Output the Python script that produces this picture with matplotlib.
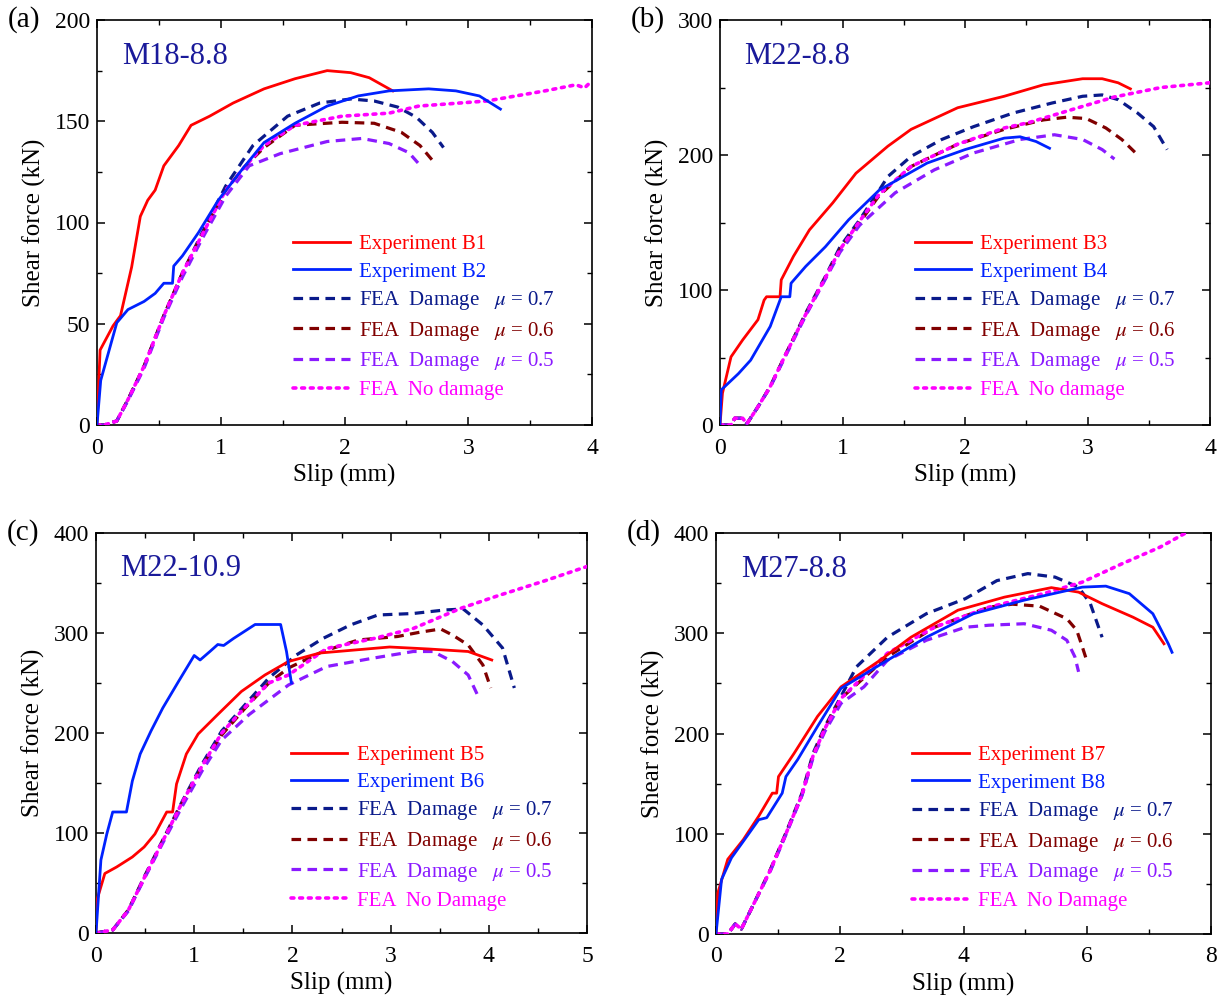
import matplotlib.pyplot as plt
from matplotlib.ticker import MultipleLocator

plt.rcParams["font.family"] = ["Liberation Serif", "DejaVu Serif"]
plt.rcParams["mathtext.fontset"] = "stix"

RED = "#ff0000"
BLUE = "#0022ff"
NAVY = "#0a1a8a"
MAROON = "#800000"
PURPLE = "#8a1aff"
MAGENTA = "#ff00ff"

# ---------------- (a) M18-8.8 ----------------
a_b1_x = [0, 0.025, 0.13, 0.19, 0.22, 0.28, 0.35, 0.41, 0.47, 0.54, 0.66, 0.76, 0.91, 1.1, 1.35, 1.6, 1.86, 2.05, 2.2, 2.39]
a_b1_y = [0, 37, 49, 54, 62, 78, 103, 111, 116, 128, 138, 148, 152.5, 159, 166, 171, 175, 174, 171.5, 165]
a_b2_x = [0, 0.03, 0.16, 0.25, 0.38, 0.47, 0.54, 0.61, 0.62, 0.69, 0.82, 0.98, 1.17, 1.35, 1.6, 1.86, 2.11, 2.36, 2.68, 2.9, 3.09, 3.26]
a_b2_y = [0, 22, 50.5, 57, 61, 65, 70, 70, 78.5, 83.5, 95, 111, 126, 139.5, 149, 157.5, 162.5, 165, 166, 165, 162.5, 156]
a_d7_x = [0, 0.06, 0.16, 0.25, 0.38, 0.54, 0.69, 0.85, 1.04, 1.26, 1.54, 1.8, 2.05, 2.24, 2.43, 2.58, 2.71, 2.8]
a_d7_y = [0, 0, 2, 12.5, 29, 54, 75, 95, 118, 138, 152.5, 159, 161, 160, 157, 152, 144.5, 137]
a_d6_x = [0, 0.06, 0.16, 0.25, 0.38, 0.54, 0.69, 0.85, 1.04, 1.2, 1.35, 1.6, 1.98, 2.24, 2.46, 2.61, 2.72]
a_d6_y = [0, 0, 2, 12.5, 29, 54, 75, 94, 116, 128, 137, 148, 149.5, 149, 144.5, 138, 130]
a_d5_x = [0, 0.06, 0.16, 0.25, 0.38, 0.54, 0.69, 0.85, 1.04, 1.23, 1.48, 1.86, 2.14, 2.36, 2.52, 2.6]
a_d5_y = [0, 0, 2, 12, 28, 53, 73, 92, 113, 128, 134, 140, 141.5, 139, 134.5, 129]
a_nd_x = [0, 0.06, 0.16, 0.25, 0.38, 0.54, 0.69, 0.85, 1.04, 1.2, 1.35, 1.6, 1.98, 2.36, 2.6, 3.15, 3.62, 3.87, 3.94, 4.0]
a_nd_y = [0, 0, 2, 12.5, 29, 54, 75, 94, 116, 128, 138, 148, 152.5, 154, 157.5, 160, 165, 168, 166.5, 170]

# ---------------- (b) M22-8.8 ----------------
b_b3_x = [0, 0.02, 0.09, 0.185, 0.31, 0.36, 0.38, 0.49, 0.5, 0.6, 0.73, 0.92, 1.11, 1.37, 1.56, 1.94, 2.32, 2.64, 2.96, 3.12, 3.25, 3.35]
b_b3_y = [0, 23.5, 50.5, 63, 78, 92.5, 95, 95, 107.5, 125, 144.5, 164.5, 186.5, 206.5, 219, 235, 243.5, 252, 256.5, 256.5, 253.5, 249]
b_b4_x = [0, 0.01, 0.15, 0.25, 0.41, 0.5, 0.57, 0.58, 0.7, 0.86, 1.05, 1.3, 1.69, 2.0, 2.32, 2.45, 2.58, 2.69]
b_b4_y = [0, 26, 38, 48, 73, 95, 95, 105, 117.5, 132, 152, 174, 194, 204, 212.5, 213.5, 210, 205]
b_d7_x = [0, 0.09, 0.12, 0.185, 0.22, 0.31, 0.41, 0.54, 0.7, 0.86, 0.98, 1.14, 1.3, 1.37, 1.56, 1.81, 2.07, 2.39, 2.71, 2.96, 3.12, 3.25, 3.41, 3.54, 3.65]
b_d7_y = [0, 0, 5, 5, 1, 13.5, 28.5, 53, 83, 110, 132, 152, 174, 184, 199, 211.5, 221, 231, 238.5, 243.5, 244.5, 241, 231, 221, 204]
b_d6_x = [0, 0.09, 0.12, 0.185, 0.22, 0.31, 0.41, 0.54, 0.7, 0.86, 0.98, 1.14, 1.3, 1.56, 1.94, 2.32, 2.64, 2.83, 2.99, 3.15, 3.28, 3.41]
b_d6_y = [0, 0, 5, 5, 1, 13.5, 28.5, 53, 82, 109, 130, 150, 170, 191.5, 208, 219, 226, 228, 227, 220, 211.5, 200]
b_d5_x = [0, 0.09, 0.12, 0.185, 0.22, 0.31, 0.41, 0.54, 0.7, 0.86, 0.98, 1.14, 1.43, 1.75, 2.07, 2.45, 2.73, 2.96, 3.12, 3.22]
b_d5_y = [0, 0, 5, 5, 1, 13.5, 28, 52, 81, 108, 128, 148, 172, 189, 201.5, 211.5, 215, 211.5, 204, 197]
b_nd_x = [0, 0.09, 0.12, 0.185, 0.22, 0.31, 0.41, 0.54, 0.7, 0.86, 0.98, 1.14, 1.3, 1.56, 1.94, 2.32, 2.52, 2.96, 3.22, 3.6, 4.0]
b_nd_y = [0, 0, 5, 5, 1, 13.5, 28.5, 53, 82, 109, 130, 151, 171, 191.5, 208, 220, 224, 236, 243, 250, 253.5]

# ---------------- (c) M22-10.9 ----------------
c_b5_x = [0, 0.01, 0.09, 0.21, 0.37, 0.49, 0.6, 0.72, 0.78, 0.82, 0.92, 1.04, 1.24, 1.48, 1.72, 1.96, 2.28, 2.99, 3.39, 3.79, 4.03]
c_b5_y = [0, 33, 59.5, 66, 76, 86, 99, 121, 121, 149, 179, 199, 218.5, 241.5, 258, 271.5, 280, 286, 284, 281.5, 273]
c_b6_x = [0, 0.05, 0.11, 0.17, 0.31, 0.37, 0.45, 0.56, 0.68, 0.84, 1.0, 1.06, 1.16, 1.24, 1.3, 1.4, 1.62, 1.88, 1.94, 1.99]
c_b6_y = [0, 73, 99, 121, 121, 152, 179, 202, 225, 251.5, 277.5, 273, 281.5, 288.5, 287.5, 294.5, 308.5, 308.5, 281.5, 250]
c_d7_x = [0, 0.17, 0.33, 0.49, 0.68, 0.88, 1.08, 1.28, 1.52, 1.76, 2.04, 2.31, 2.59, 2.87, 3.23, 3.55, 3.74, 3.94, 4.14, 4.26]
c_d7_y = [0, 3, 23, 56, 93, 132, 169, 202, 228.5, 255, 278, 294.5, 308, 318, 319.5, 323, 324, 308, 285, 245]
c_d6_x = [0, 0.17, 0.33, 0.49, 0.68, 0.88, 1.08, 1.28, 1.52, 1.76, 1.96, 2.31, 2.67, 3.07, 3.31, 3.51, 3.63, 3.79, 3.94, 4.02]
c_d6_y = [0, 3, 23, 55, 92, 130, 166, 198, 225, 250, 265, 281.5, 293, 296.5, 301, 304, 298, 288, 268, 245]
c_d5_x = [0, 0.17, 0.33, 0.49, 0.68, 0.88, 1.08, 1.28, 1.56, 1.96, 2.35, 2.83, 3.23, 3.43, 3.63, 3.79, 3.89]
c_d5_y = [0, 3, 22, 54, 90, 127, 162, 193, 218.5, 248, 266.5, 275, 281.5, 281.5, 271.5, 258, 237]
c_nd_x = [0, 0.17, 0.33, 0.49, 0.68, 0.88, 1.08, 1.28, 1.52, 1.76, 1.96, 2.35, 2.83, 3.23, 3.71, 4.1, 4.58, 5.0]
c_nd_y = [0, 3, 23, 55, 92, 131, 167, 200, 226, 250, 258, 284.5, 294.5, 304.5, 324.5, 337.5, 352.5, 366.5]

# ---------------- (d) M27-8.8 ----------------
d_b7_x = [0, 0.03, 0.19, 0.44, 0.69, 0.91, 0.98, 1.01, 1.26, 1.64, 2.02, 2.65, 3.15, 3.91, 4.66, 5.42, 5.86, 6.24, 6.74, 7.06, 7.24]
d_b7_y = [0, 41, 74.5, 94, 117.5, 140.5, 140.5, 157, 180, 217, 246.5, 273, 296, 323, 336, 345.5, 341, 329.5, 316, 306, 289.5]
d_b8_x = [0, 0.09, 0.25, 0.5, 0.69, 0.82, 1.07, 1.13, 1.32, 1.64, 2.02, 2.77, 3.4, 4.16, 4.98, 5.92, 6.3, 6.68, 7.06, 7.31, 7.37]
d_b8_y = [0, 54.5, 76, 97.5, 114, 116, 140.5, 157, 174, 207, 245, 273, 296, 319.5, 333, 346, 347, 339.5, 319.5, 289.5, 281]
d_d7_x = [0, 0.19, 0.31, 0.41, 0.57, 0.88, 1.13, 1.39, 1.57, 1.76, 2.02, 2.27, 2.77, 3.4, 4.03, 4.54, 5.04, 5.48, 5.86, 6.05, 6.24]
d_d7_y = [0, 0, 10, 5, 25, 64.5, 101, 140.5, 180.5, 207, 237, 266.5, 296, 319.5, 334.5, 352.5, 359.5, 356, 346, 329.5, 296]
d_d6_x = [0, 0.19, 0.31, 0.41, 0.57, 0.88, 1.13, 1.39, 1.57, 1.76, 2.02, 2.77, 3.53, 4.41, 4.79, 5.23, 5.67, 5.83, 5.92, 5.98]
d_d6_y = [0, 0, 10, 5, 25, 64, 100, 139, 178, 205, 235, 276.5, 306, 326, 329, 327, 314.5, 303, 286.5, 275]
d_d5_x = [0, 0.19, 0.31, 0.41, 0.57, 0.88, 1.13, 1.39, 1.57, 1.76, 2.02, 2.39, 2.77, 3.4, 4.03, 4.41, 4.98, 5.42, 5.67, 5.8, 5.86]
d_d5_y = [0, 0, 10, 5, 25, 63, 99, 138, 176, 202, 230, 246.5, 273, 293, 306, 308, 309.5, 303, 293, 276.5, 261.5]
d_nd_x = [0, 0.19, 0.31, 0.41, 0.57, 0.88, 1.13, 1.39, 1.57, 1.76, 2.02, 2.77, 3.53, 4.41, 5.29, 5.92, 6.55, 7.18, 7.59]
d_nd_y = [0, 0, 10, 5, 25, 64, 100, 139, 178, 205, 235, 280, 306, 326, 339.5, 351, 369, 386, 400]

PANELS = [
    ("(a)", "M18-8.8", 4, 200, 1, 50, ("B1", "B2"), "No damage",
     (a_b1_x, a_b1_y), (a_b2_x, a_b2_y), (a_d7_x, a_d7_y), (a_d6_x, a_d6_y), (a_d5_x, a_d5_y), (a_nd_x, a_nd_y)),
    ("(b)", "M22-8.8", 4, 300, 1, 100, ("B3", "B4"), "No damage",
     (b_b3_x, b_b3_y), (b_b4_x, b_b4_y), (b_d7_x, b_d7_y), (b_d6_x, b_d6_y), (b_d5_x, b_d5_y), (b_nd_x, b_nd_y)),
    ("(c)", "M22-10.9", 5, 400, 1, 100, ("B5", "B6"), "No Damage",
     (c_b5_x, c_b5_y), (c_b6_x, c_b6_y), (c_d7_x, c_d7_y), (c_d6_x, c_d6_y), (c_d5_x, c_d5_y), (c_nd_x, c_nd_y)),
    ("(d)", "M27-8.8", 8, 400, 2, 100, ("B7", "B8"), "No Damage",
     (d_b7_x, d_b7_y), (d_b8_x, d_b8_y), (d_d7_x, d_d7_y), (d_d6_x, d_d6_y), (d_d5_x, d_d5_y), (d_nd_x, d_nd_y)),
]

# axes rectangles in pixels: left, top, right, bottom
RECTS = [(97, 20, 592, 425), (720, 20, 1210, 425), (96, 533, 587, 933), (716, 533, 1211, 934)]
W, H = 1226, 1000

fig = plt.figure(figsize=(W / 100, H / 100), dpi=100)

for (tag, name, xmax, ymax, xstep, ystep, exps, nd_label, e1, e2, d7, d6, d5, nd), rect in zip(PANELS, RECTS):
    l, t, r, b = rect
    ax = fig.add_axes([l / W, 1 - b / H, (r - l) / W, (b - t) / H])
    ax.plot(*e1, color=RED, lw=2, label=f"Experiment {exps[0]}", zorder=4)
    ax.plot(*e2, color=BLUE, lw=2, label=f"Experiment {exps[1]}", zorder=4)
    ax.plot(*d7, color=NAVY, lw=2.3, ls=(0, (3, 2)), label=r"FEA  Damage   $\mu$ = 0.7", zorder=3)
    ax.plot(*d6, color=MAROON, lw=2.3, ls=(0, (3, 2)), label=r"FEA  Damage   $\mu$ = 0.6", zorder=3)
    ax.plot(*d5, color=PURPLE, lw=2.3, ls=(0, (3, 2)), label=r"FEA  Damage   $\mu$ = 0.5", zorder=3)
    ax.plot(*nd, color=MAGENTA, lw=2.6, ls=(0, (0.8, 1.6)), dash_capstyle="round",
            label=f"FEA  {nd_label}", zorder=3)

    ax.set_xlim(0, xmax)
    ax.set_ylim(0, ymax)
    ax.xaxis.set_major_locator(MultipleLocator(xstep))
    ax.xaxis.set_minor_locator(MultipleLocator(xstep / 2))
    ax.yaxis.set_major_locator(MultipleLocator(ystep))
    ax.yaxis.set_minor_locator(MultipleLocator(ystep / 2))
    ax.tick_params(which="both", direction="in", top=True, right=True, labelsize=17)
    ax.tick_params(axis="x", pad=9)
    ax.tick_params(axis="y", pad=5)
    ax.tick_params(which="major", length=6, width=1.1)
    ax.tick_params(which="minor", length=3.5, width=1.0)
    for sp in ax.spines.values():
        sp.set_linewidth(1.2)
    ax.set_xlabel("Slip (mm)", fontsize=18, labelpad=4)
    ax.set_ylabel("Shear force (kN)", fontsize=18, labelpad=6)

    ax.text(0.05, 0.91, name, transform=ax.transAxes, fontsize=22, color="#1a1a9a", va="center")
    fig.text((l - 89) / W, 1 - t / H, tag, fontsize=21, va="center", ha="left")

    leg = ax.legend(loc="upper left", bbox_to_anchor=(0.38, 0.49), frameon=False, fontsize=15,
                    handlelength=2.7, handletextpad=0.45, labelspacing=0.36, borderaxespad=0)
    for txt, line in zip(leg.get_texts(), leg.get_lines()):
        txt.set_color(line.get_color())

fig.savefig("out.png", dpi=100)
